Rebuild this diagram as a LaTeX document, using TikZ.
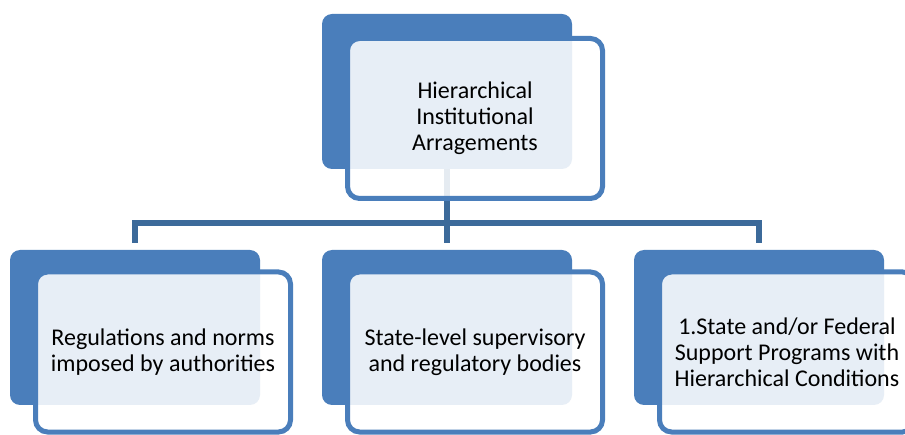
\documentclass[tikz,border=0pt]{standalone}
\usepackage{fontspec}
\setmainfont{Carlito}
\definecolor{boxblue}{RGB}{74,126,187}
\definecolor{linkblue}{RGB}{60,106,154}

\begin{document}
\begin{tikzpicture}[x=1pt, y=-1pt,
  back/.style={fill=boxblue, rounded corners=10pt, minimum width=250pt, minimum height=155pt},
  front/.style={draw=boxblue, line width=5pt, fill=white, fill opacity=0.87, text opacity=1,
    rounded corners=12pt, minimum width=255pt, minimum height=160pt, align=center,
    font=\fontsize{24}{26}\selectfont},
  link/.style={draw=linkblue, line width=5.5pt}]
\useasboundingbox (0,0) rectangle (905,435);

\node[back] (topback) at (447,91.5){};
\node[back] (leftback) at (135,327.5){};
\node[back] (midback) at (447,327.5){};
\node[back] (rightback) at (759,327.5){};

\draw[link, shorten >=7pt] (topback.south) -- ++(0,54) -| (leftback.north);
\draw[link, shorten >=7pt] (topback.south) -- ++(0,54) -| (rightback.north);
\draw[link, shorten >=7pt] (topback.south) -- (midback.north);

\node[front] (top) at (475,118.5){Hierarchical\\Institutional\\Arragements};
\node[front] (left) at (163,352){Regulations and norms\\imposed by authorities};
\node[front] (mid) at (475,352){State-level supervisory\\and regulatory bodies};
\node[front] (right) at (787,352){1.State and/or Federal\\Support Programs with\\Hierarchical Conditions};
\end{tikzpicture}
\end{document}
